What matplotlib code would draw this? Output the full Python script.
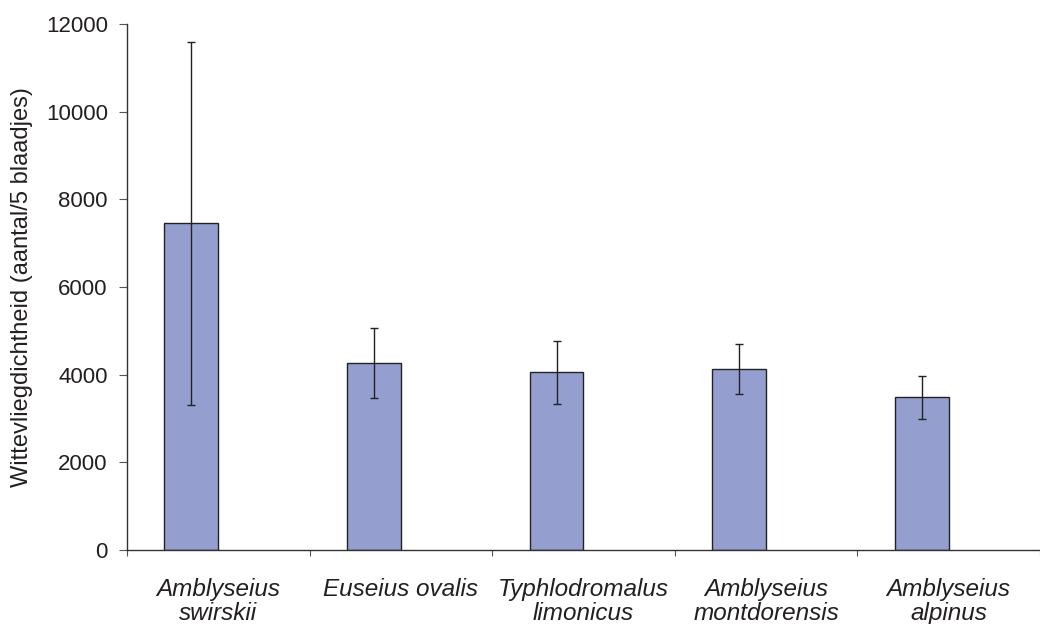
import numpy as np
import matplotlib.pyplot as plt

plt.rcParams['font.family'] = ['Liberation Sans', 'DejaVu Sans']

species = ['Amblyseius\nswirskii', 'Euseius ovalis', 'Typhlodromalus\nlimonicus',
           'Amblyseius\nmontdorensis', 'Amblyseius\nalpinus']
density = [7450, 4260, 4050, 4140, 3480]
sem = [4150, 800, 710, 570, 490]

fig = plt.figure(figsize=(10.4, 6.24), dpi=100)
ax = fig.add_axes([0.1221, 0.1186, 0.8779, 0.8429])

x = np.arange(len(species))
w = 0.295
ax.bar(x - w, density, width=w, align='edge', color='#949fcf',
       edgecolor='#222222', linewidth=1.0, zorder=2)
ax.errorbar(x - w / 2, density, yerr=sem, fmt='none', ecolor='#222222',
            elinewidth=1.0, capsize=3, capthick=1.0, zorder=3)

ax.set_xlim(-0.5, len(species) - 0.5)
ax.set_ylim(0, 12000)
ax.set_yticks(np.arange(0, 12001, 2000))
ax.set_xticks(np.arange(-0.5, len(species), 1.0))
ax.set_xticklabels([])
ax.set_xticks(x, minor=True)
ax.set_xticklabels(species, minor=True, style='italic', fontsize=17.5,
                   color='#231f20', linespacing=1.05)
ax.tick_params(axis='x', which='minor', length=0, pad=20)
ax.tick_params(axis='x', which='major', direction='out', length=4, width=0.8,
               color='#555555')
ax.tick_params(axis='y', direction='out', length=5.8, width=0.8, color='#555555',
               labelsize=16, labelcolor='#231f20', pad=8)

for s in ['top', 'right']:
    ax.spines[s].set_visible(False)
for s in ['left', 'bottom']:
    ax.spines[s].set_linewidth(1.0)
    ax.spines[s].set_color('#333333')

ax.set_ylabel('Wittevliegdichtheid (aantal/5 blaadjes)', fontsize=17,
              color='#231f20', labelpad=9)

fig.savefig('out.png', dpi=100)
